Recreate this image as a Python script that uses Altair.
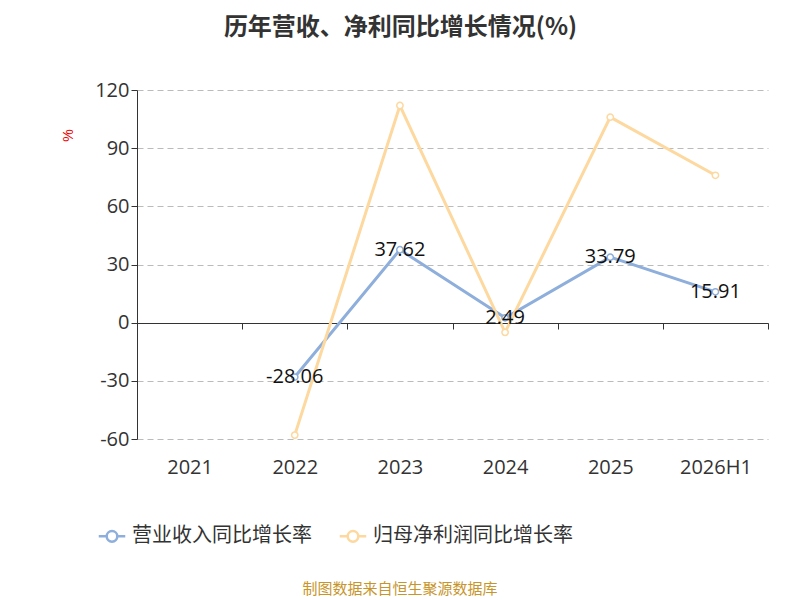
import altair as alt
import pandas as pd

years = ["2021", "2022", "2023", "2024", "2025", "2026H1"]
revenue = [None, -28.06, 37.62, 2.49, 33.79, 15.91]
profit = [None, -58.0, 112.0, -5.0, 106.0, 76.0]
series = ["营业收入同比增长率", "归母净利润同比增长率"]
colors = ["#8eaedb", "#fdd89f"]

rows = []
for y, r, p in zip(years, revenue, profit):
    rows.append({"year": y, "series": series[0], "value": r})
    rows.append({"year": y, "series": series[1], "value": p})
df = pd.DataFrame(rows).dropna()
df["label"] = df["value"].map(lambda v: f"{v:.2f}")

FONT = "Noto Sans CJK SC"
NUMFONT = "Open Sans"

x = alt.X("year:N", sort=years, scale=alt.Scale(domain=years, paddingInner=0, paddingOuter=0),
          axis=alt.Axis(title=None, offset=-116, tickBand="extent", domainColor="#333",
                        tickColor="#333", tickSize=6, labelPadding=128, labelFontSize=20,
                        labelAngle=0, labelColor="#333", labelFont=NUMFONT, grid=False))
y = alt.Y("value:Q", scale=alt.Scale(domain=[-60, 120], nice=False),
          axis=alt.Axis(values=[-60, -30, 0, 30, 60, 90, 120], title="%", titleColor="#e00",
                        titleFontSize=14, titleFontWeight="normal", titleX=-62, titleY=45,
                        titleAngle=-90, labelFontSize=20, labelColor="#333", labelFont=NUMFONT,
                        labelExpr="replace(datum.label, '−', '-')",
                        domainColor="#333", tickColor="#333", tickSize=6, gridDash=[6, 4],
                        gridColor="#bbb"))
sym = "M-1.25,0 L-0.5,0 M0.5,0 L1.25,0 M0.5,0 A0.5,0.5 0 1,0 -0.5,0 A0.5,0.5 0 1,0 0.5,0"
color = alt.Color("series:N", sort=series, scale=alt.Scale(domain=series, range=colors),
                  legend=alt.Legend(title=None, orient="none", legendX=-37, legendY=434,
                                    direction="horizontal", labelFontSize=20, labelFont=FONT,
                                    labelColor="#333", symbolSize=450, symbolStrokeWidth=2.5,
                                    symbolType=sym, symbolFillColor="transparent",
                                    columnPadding=22, labelLimit=400, labelOffset=8))

base = alt.Chart(df)
lines = base.mark_line(strokeWidth=3).encode(x=x, y=y, color=color)
points = base.mark_point(filled=True, fill="white", size=40, strokeWidth=1.5, opacity=1).encode(
    x=x, y=y, stroke=alt.Stroke("series:N", scale=alt.Scale(domain=series, range=colors), legend=None))
labels = alt.Chart(df[df["series"] == series[0]]).mark_text(
    fontSize=20, font=NUMFONT, color="#111", baseline="middle").encode(
    x=x, y=y, text="label:N")
source = alt.Chart(pd.DataFrame({"t": ["制图数据来自恒生聚源数据库"]})).mark_text(
    fontSize=15, font=FONT, color="#c8952a").encode(
    x=alt.value(263), y=alt.value(499), text="t:N")

chart = alt.layer(lines, points, labels, source).properties(
    width=631, height=349,
    autosize=alt.AutoSizeParams(type="none"),
    padding={"left": 129, "top": 82, "right": 24, "bottom": 161},
    title=alt.TitleParams("历年营收、净利同比增长情况(%)", fontSize=24, font=FONT,
                          fontWeight="bold", color="#333", anchor="middle", dx=-52, offset=40),
).configure_view(stroke=None).resolve_scale(stroke="independent")

chart.save("out.html", embed_options={"renderer": "svg", "actions": False})
